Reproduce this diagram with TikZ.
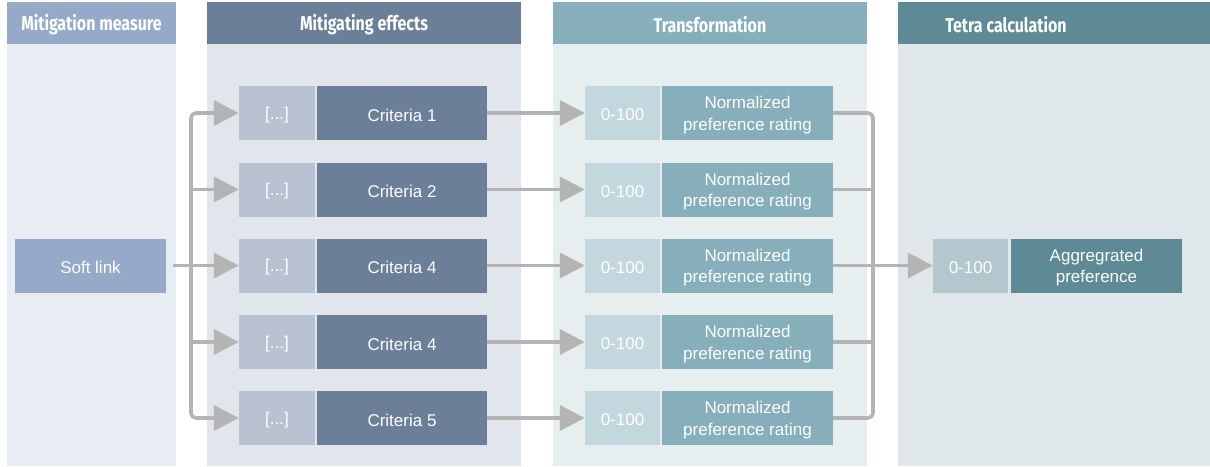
\documentclass[tikz,border=0pt]{standalone}
\usepackage{fontspec}
\setmainfont{Liberation Sans}
\newfontfamily\headfont[FakeStretch=0.8]{Fira Sans Bold}
\usetikzlibrary{arrows.meta}
\definecolor{hA}{HTML}{94AAC8}
\definecolor{bA}{HTML}{E8ECF3}
\definecolor{hB}{HTML}{6B7F99}
\definecolor{bB}{HTML}{E1E5EC}
\definecolor{hC}{HTML}{87AFBB}
\definecolor{bC}{HTML}{E6EEF0}
\definecolor{hD}{HTML}{5E8A95}
\definecolor{bD}{HTML}{DFE7EA}
\definecolor{dotbox}{HTML}{B8C2D0}
\definecolor{rngbox}{HTML}{C3D8DE}
\definecolor{aggrng}{HTML}{B3C8CE}
\definecolor{conncol}{HTML}{B4B4B4}
\tikzset{
  header/.style={text=white, font=\headfont\fontsize{20}{24}\selectfont, inner sep=0pt},
  boxtext/.style={text=white, align=center, inner sep=0pt, yshift=-2pt,
    font=\fontsize{17}{21.5}\selectfont},
  box/.style={rectangle, inner sep=0pt, minimum height=54pt,
    label={[boxtext]center:{#1}}},
  conn/.style={draw=conncol, line width=3.6pt},
  arr/.style={conn, -{Triangle[length=25pt,width=25pt]}},
}
\begin{document}
\begin{tikzpicture}[x=1pt,y=-1pt]
\useasboundingbox (0,0) rectangle (1210,466);
% columns
\fill[bA] (7,44) rectangle (176,466);
\fill[hA] (7,2) rectangle (176,44);
\fill[bB] (207,44) rectangle (521,466);
\fill[hB] (207,2) rectangle (521,44);
\fill[bC] (553,44) rectangle (867,466);
\fill[hC] (553,2) rectangle (867,44);
\fill[bD] (898,44) rectangle (1210,466);
\fill[hD] (898,2) rectangle (1210,44);
\node[header] (hdA) at (91.5,24.5) {Mitigation measure};
\node[header] (hdB) at (364,24.5) {Mitigating effects};
\node[header] (hdC) at (710,24.5) {Transformation};
\node[header] (hdD) at (1006,24.5) {Tetra calculation};
% soft link
\node[box={Soft link}, fill=hA, minimum width=151pt] (soft) at (90.5,265.5) {};
% rows
\foreach \i/\y/\c in {1/113/Criteria 1, 2/189.5/Criteria 2, 3/265.5/Criteria 4, 4/342/Criteria 4, 5/418/Criteria 5}{
  \node[box={[...]}, fill=dotbox, minimum width=76pt] (d\i) at (277,\y) {};
  \node[box={\c}, fill=hB, minimum width=170pt] (c\i) at (402,\y) {};
  \node[box={0-100}, fill=rngbox, minimum width=75pt] (r\i) at (622.5,\y) {};
  \node[box={Normalized\\preference rating}, fill=hC, minimum width=171pt] (n\i) at (747.5,\y) {};
}
% aggregated
\node[box={0-100}, fill=aggrng, minimum width=75pt] (ar) at (970.5,265.5) {};
\node[box={Aggregrated\\preference}, fill=hD, minimum width=171pt] (ag) at (1096.5,265.5) {};
% left bus
\coordinate (lb) at (191,265.5);
\draw[conn, shorten <=7pt] (soft.east) -- (lb);
\draw[arr, rounded corners=5pt] (lb) |- (d1.west);
\draw[arr, rounded corners=5pt] (lb) |- (d5.west);
\draw[arr] (d2.west -| lb) -- (d2.west);
\draw[arr] (lb) -- (d3.west);
\draw[arr] (d4.west -| lb) -- (d4.west);
% criteria to transformation
\foreach \i in {1,...,5}{
  \draw[arr] (c\i.east) -- (r\i.west);
}
% right bus
\coordinate (rb) at (873,265.5);
\draw[conn, rounded corners=5pt] (n1.east) -| (rb) |- (n5.east);
\draw[conn] (n2.east) -- (n2.east -| rb);
\draw[conn] (n3.east) -- (rb);
\draw[conn] (n4.east) -- (n4.east -| rb);
\draw[arr] (rb) -- (ar.west);
\end{tikzpicture}
\end{document}
